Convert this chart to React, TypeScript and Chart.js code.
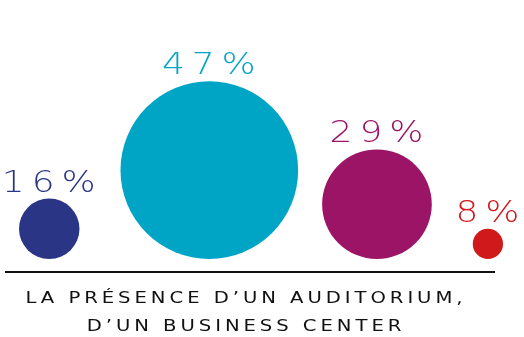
import React, { useEffect, useRef } from "react";
import { Chart, registerables } from "chart.js";

Chart.register(...registerables);

const categories = ["A", "B", "C", "D"];
const values = [16, 47, 29, 8];
const labels = ["16%", "47%", "29%", "8%"];
const colors = ["#2B3585", "#00A5C5", "#9C1465", "#D0191B"];
const titleLines = ["LA PRÉSENCE D\u2019UN AUDITORIUM,", "D\u2019UN BUSINESS CENTER"];

const W = 524;
const H = 337;
const K = 1.89; // radius px per percent
const BASE = 259;
const LEFT = 19;
const GAPS = [41, 24, 41];

function layout() {
  const pts: { x: number; y: number; r: number }[] = [];
  let edge = LEFT;
  values.forEach((v, i) => {
    const r = v * K;
    const x = edge + r;
    pts.push({ x, y: BASE - r, r });
    edge = x + r + (GAPS[i] ?? 0);
  });
  return pts;
}

const decor = {
  id: "decor",
  afterDatasetsDraw(chart: any) {
    const ctx = chart.ctx as CanvasRenderingContext2D;
    const meta = chart.getDatasetMeta(0);
    ctx.save();
    ctx.textAlign = "center";
    ctx.textBaseline = "alphabetic";
    ctx.font = "200 31px 'DejaVu Sans'";
    (ctx as any).letterSpacing = "6px";
    meta.data.forEach((el: any, i: number) => {
      const r = values[i] * K;
      ctx.fillStyle = colors[i];
      ctx.save();
      ctx.translate(el.x + 3, el.y - r - 7);
      ctx.scale(1.16, 1);
      ctx.fillText(labels[i], 0, 0);
      ctx.restore();
    });
    ctx.strokeStyle = "#111";
    ctx.lineWidth = 2;
    ctx.beginPath();
    ctx.moveTo(5, 272);
    ctx.lineTo(495, 272);
    ctx.stroke();
    ctx.fillStyle = "#111";
    ctx.font = "15px 'DejaVu Sans'";
    (ctx as any).letterSpacing = "3px";
    ctx.save();
    ctx.translate(246, 0);
    ctx.scale(1.31, 1);
    ctx.fillText(titleLines[0], 0, 303);
    ctx.fillText(titleLines[1], 0, 331);
    ctx.restore();
    ctx.restore();
  },
};

export default function App() {
  const ref = useRef<HTMLCanvasElement>(null);
  useEffect(() => {
    document.body.style.margin = "0";
    const pts = layout();
    const chart = new Chart(ref.current!, {
      type: "bubble",
      data: {
        labels: categories,
        datasets: [
          {
            data: pts,
            backgroundColor: colors,
            borderWidth: 0,
            hoverRadius: 0,
            clip: false,
          } as any,
        ],
      },
      options: {
        animation: false,
        responsive: false,
        layout: { padding: 0, autoPadding: false },
        plugins: { legend: { display: false }, tooltip: { enabled: false } },
        scales: {
          x: { type: "linear", display: false, min: 0, max: W },
          y: { type: "linear", display: false, min: 0, max: H, reverse: true },
        },
      },
      plugins: [decor],
    });
    return () => chart.destroy();
  }, []);
  return <canvas ref={ref} width={W} height={H} style={{ display: "block" }} />;
}
